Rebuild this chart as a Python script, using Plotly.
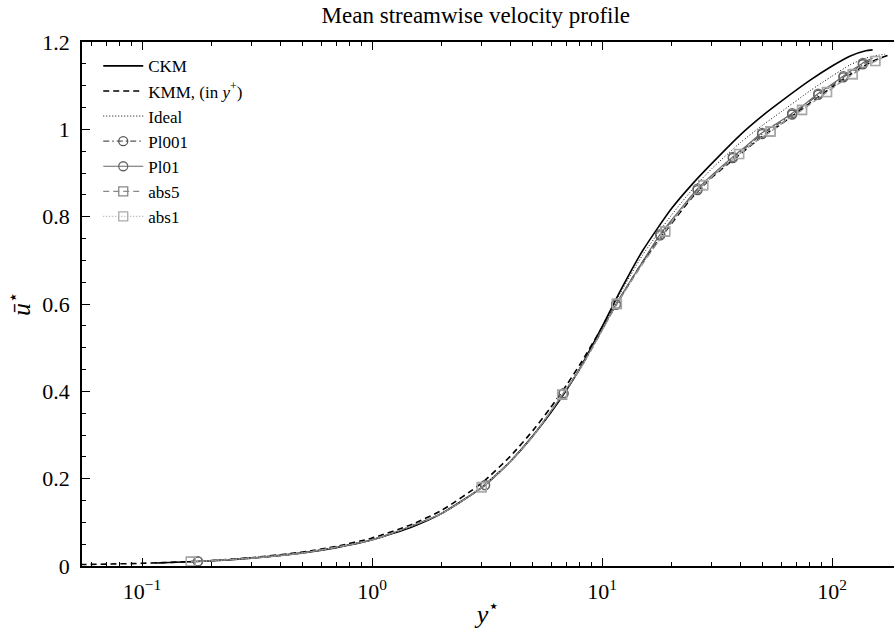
import plotly.graph_objects as go

# ---------------- data ----------------
ckm_y = [0.115, 0.15, 0.2, 0.3, 0.5, 0.7, 1, 1.5, 2, 3, 4, 5, 6, 7, 8, 10, 12, 15, 20, 25, 30, 40, 50, 60, 80, 100, 120, 140, 150]
ckm_u = [0.007, 0.009, 0.012, 0.018, 0.030, 0.042, 0.060, 0.090, 0.120, 0.180, 0.240, 0.298, 0.352, 0.403, 0.452, 0.548, 0.630, 0.722, 0.818, 0.878, 0.922, 0.988, 1.032, 1.064, 1.112, 1.145, 1.168, 1.180, 1.182]

kmm_y = [0.04, 0.07, 0.1, 0.15, 0.2, 0.3, 0.5, 0.7, 1, 1.5, 2, 3, 4, 5, 6, 7, 8, 10, 12, 15, 20, 25, 30, 40, 50, 60, 80, 100, 120, 150, 180]
kmm_u = [0.0025, 0.0043, 0.0062, 0.0093, 0.0125, 0.019, 0.032, 0.045, 0.064, 0.096, 0.127, 0.190, 0.252, 0.310, 0.364, 0.414, 0.461, 0.546, 0.614, 0.696, 0.784, 0.848, 0.890, 0.944, 0.985, 1.012, 1.060, 1.097, 1.126, 1.156, 1.172]

ideal_y = [0.115, 0.2, 0.5, 1, 2, 3, 4, 5, 6, 7, 8, 10, 12, 15, 20, 25, 30, 40, 50, 60, 80, 100, 120, 140, 160, 170]
ideal_u = [0.007, 0.012, 0.030, 0.060, 0.120, 0.180, 0.240, 0.298, 0.352, 0.404, 0.453, 0.546, 0.625, 0.712, 0.803, 0.866, 0.910, 0.970, 1.010, 1.040, 1.088, 1.122, 1.148, 1.163, 1.170, 1.172]

pl_y = [0.175, 0.3, 0.5, 1, 2, 3.1, 4, 5, 6.8, 8, 9.5, 11.5, 14, 17.9, 21.5, 26, 31, 37, 43, 49.6, 57, 67, 77, 87, 99, 112, 124, 136, 150]
pl001_u = [0.0105, 0.018, 0.030, 0.060, 0.120, 0.185, 0.240, 0.298, 0.395, 0.450, 0.518, 0.598, 0.670, 0.757, 0.809, 0.861, 0.899, 0.934, 0.962, 0.989, 1.009, 1.034, 1.057, 1.079, 1.099, 1.119, 1.135, 1.149, 1.160]
pl01_u = [0.0105, 0.018, 0.030, 0.060, 0.120, 0.185, 0.240, 0.298, 0.396, 0.452, 0.520, 0.600, 0.672, 0.760, 0.812, 0.864, 0.902, 0.937, 0.965, 0.992, 1.012, 1.037, 1.060, 1.082, 1.102, 1.122, 1.138, 1.152, 1.163]
pl_marks = [0, 5, 8, 11, 13, 15, 17, 19, 21, 23, 25, 27]

abs_y = [0.163, 0.3, 0.5, 1, 2, 3.0, 4, 5, 6.7, 8, 9.5, 11.6, 14.5, 18.8, 22.5, 27.5, 33, 39.4, 46, 54, 63, 74, 84, 95, 108, 123, 138, 154, 165]
abs5_u = [0.0098, 0.018, 0.030, 0.060, 0.120, 0.180, 0.240, 0.297, 0.392, 0.450, 0.518, 0.600, 0.680, 0.766, 0.822, 0.872, 0.910, 0.943, 0.970, 0.995, 1.020, 1.044, 1.065, 1.085, 1.106, 1.126, 1.142, 1.156, 1.163]
abs1_u = [0.0098, 0.018, 0.030, 0.060, 0.120, 0.181, 0.240, 0.297, 0.393, 0.451, 0.519, 0.601, 0.681, 0.767, 0.823, 0.873, 0.911, 0.944, 0.971, 0.996, 1.021, 1.045, 1.066, 1.086, 1.107, 1.127, 1.143, 1.157, 1.164]
abs_marks = [0, 5, 8, 11, 13, 15, 17, 19, 21, 23, 25, 27]

x_major = [0.1, 1, 10, 100]
x_major_text = ["10<sup>\u22121</sup>", "10<sup>0</sup>", "10<sup>1</sup>", "10<sup>2</sup>"]
y_major = [0, 0.2, 0.4, 0.6, 0.8, 1.0, 1.2]
y_major_text = ["0", "0.2", "0.4", "0.6", "0.8", "1", "1.2"]

FONT = "Liberation Serif"

fig = go.Figure()


def add_series(name, xs, ys, color, dash, width, symbol=None, marks=None):
    fig.add_trace(go.Scatter(x=xs, y=ys, mode="lines", line=dict(color=color, dash=dash, width=width, shape="spline", smoothing=0.6),
                             showlegend=False, hoverinfo="skip"))
    if symbol is not None:
        fig.add_trace(go.Scatter(x=[xs[i] for i in marks], y=[ys[i] for i in marks], mode="markers",
                                 marker=dict(symbol=symbol, size=9, color=color, line=dict(color=color, width=1.3)),
                                 showlegend=False, hoverinfo="skip"))
        fig.add_trace(go.Scatter(x=[None], y=[None], mode="lines+markers", name=name,
                                 line=dict(color=color, dash=dash, width=width),
                                 marker=dict(symbol=symbol, size=9, color=color, line=dict(color=color, width=1.3))))
    else:
        fig.add_trace(go.Scatter(x=[None], y=[None], mode="lines", name=name,
                                 line=dict(color=color, dash=dash, width=width)))


add_series("CKM", ckm_y, ckm_u, "black", "solid", 1.6)
add_series("KMM, (in <i>y</i><sup>+</sup>)", kmm_y, kmm_u, "black", "6px,4px", 1.6)
add_series("Ideal", ideal_y, ideal_u, "black", "1px,2px", 1.0)
add_series("Pl001", pl_y, pl001_u, "#555555", "6px,3px,1.5px,3px", 1.2, "circle-open", pl_marks)
add_series("Pl01", pl_y, pl01_u, "#666666", "solid", 1.2, "circle-open", pl_marks)
add_series("abs5", abs_y, abs5_u, "#888888", "6px,4px", 1.2, "square-open", abs_marks)
add_series("abs1", abs_y, abs1_u, "#aaaaaa", "1px,2px", 1.2, "square-open", abs_marks)

minor_x = [m * 10 ** e for e in (-2, -1, 0, 1, 2) for m in range(2, 10)]
minor_y = [0.05, 0.1, 0.15, 0.25, 0.3, 0.35, 0.45, 0.5, 0.55, 0.65, 0.7, 0.75, 0.85, 0.9, 0.95, 1.05, 1.1, 1.15]

fig.update_layout(
    width=894, height=637,
    margin=dict(l=82, r=0, t=42, b=71),
    paper_bgcolor="white", plot_bgcolor="white",
    font=dict(family=FONT, size=22, color="black"),
    title=dict(text="Mean streamwise velocity profile", x=0.485, xref="paper", xanchor="center",
               y=1 - 15 / 637, yref="container", yanchor="middle", font=dict(size=23)),
    legend=dict(x=0.02, y=0.988, xanchor="left", yanchor="top", bgcolor="rgba(0,0,0,0)",
                font=dict(size=17), tracegroupgap=0, itemwidth=40),
    showlegend=True,
)
fig.update_xaxes(type="log", range=[-1.261, 2.269], showgrid=False, zeroline=False,
                 showline=True, linecolor="black", linewidth=1.5, mirror="allticks",
                 ticks="inside", ticklen=8, tickwidth=1.2, tickcolor="black",
                 tickvals=x_major, ticktext=x_major_text, ticklabelstandoff=5,
                 minor=dict(tickvals=minor_x, ticks="inside", ticklen=4, tickwidth=1, tickcolor="black"),
                 title=dict(text="<i>y</i><sup>\u22c6</sup>", standoff=2))
fig.update_yaxes(range=[0, 1.2], showgrid=False, zeroline=False,
                 showline=True, linecolor="black", linewidth=1.5, mirror=False,
                 ticks="inside", ticklen=8, tickwidth=1.2, tickcolor="black",
                 tickvals=y_major, ticktext=y_major_text, ticklabelstandoff=6,
                 minor=dict(tickvals=minor_y, ticks="inside", ticklen=4, tickwidth=1, tickcolor="black"),
                 title=dict(text="<i>\u016b</i><sup>\u22c6</sup>", standoff=4))

fig.write_html("out.html")
